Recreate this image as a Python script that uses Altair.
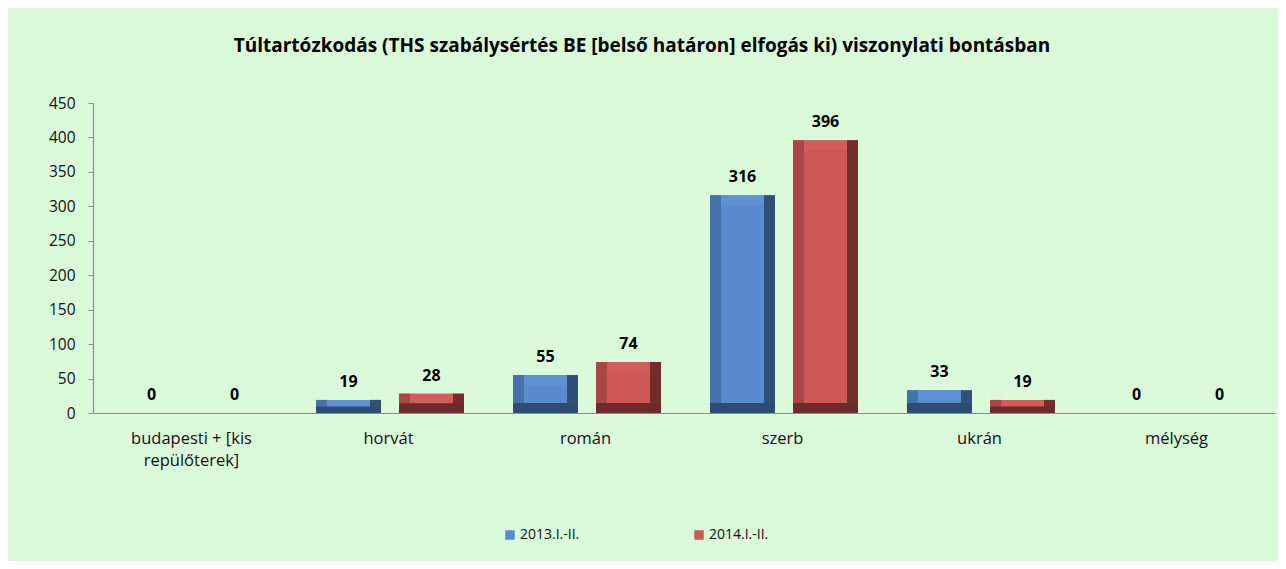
import altair as alt
import pandas as pd

categories = ["budapesti + [kis\nrepülőterek]", "horvát", "román", "szerb", "ukrán", "mélység"]
series_names = ["2013.I.-II.", "2014.I.-II."]
values_2013 = [0, 19, 55, 316, 33, 0]
values_2014 = [0, 28, 74, 396, 19, 0]
title_text = "Túltartózkodás (THS szabálysértés BE [belső határon] elfogás ki) viszonylati bontásban"

rows = []
for c, a, b in zip(categories, values_2013, values_2014):
    rows.append({"category": c, "series": series_names[0], "value": a})
    rows.append({"category": c, "series": series_names[1], "value": b})
df = pd.DataFrame(rows)

FONT = "Open Sans"
BG = "#DAFADA"
BAR_W = 65
BEV_PX = 11
OFF = 41.5
SHIFT = 1.5

palette = {
    series_names[0]: dict(face="#5A8BCF", top="#5F91D4", left="#4672AB", right="#30507A", bottom="#2E4B70", off=-OFF + SHIFT),
    series_names[1]: dict(face="#CE5855", top="#D25E5B", left="#AA4745", right="#732D2D", bottom="#6B2B2B", off=OFF + SHIFT),
}

x_enc = alt.X(
    "category:N",
    sort=categories,
    title=None,
    scale=alt.Scale(paddingInner=0, paddingOuter=0),
    axis=alt.Axis(
        labelAngle=0,
        labelExpr="split(datum.value, '\\n')",
        labelFontSize=16.5,
        labelFont=FONT,
        labelColor="#111111",
        labelPadding=17,
        labelLineHeight=22,
        ticks=False,
        domainColor="#8c8c8c",
        domainWidth=1.2,
        grid=False,
    ),
)
y_scale = alt.Scale(domain=[0, 450])
y_axis = alt.Axis(
    values=list(range(0, 451, 50)),
    labelOverlap=False,
    labelFontSize=15.5,
    labelFont=FONT,
    labelColor="#111111",
    labelPadding=13,
    tickSize=5,
    tickColor="#8c8c8c",
    domainColor="#8c8c8c",
    domainWidth=1.2,
    grid=False,
    title=None,
)


def yq(field):
    return alt.Y(field, type="quantitative", stack=None, scale=y_scale, axis=y_axis, title=None)


base = alt.Chart(df).transform_calculate(
    bev="min(datum.value / 2, 14.5)",
).transform_calculate(
    topstart="datum.value - datum.bev",
)

layers = []
for s in series_names:
    p = palette[s]
    b = base.transform_filter(alt.datum.series == s)
    face = b.mark_bar(width=BAR_W, xOffset=p["off"]).encode(
        x=x_enc,
        y=yq("value"),
        color=alt.Color(
            "series:N",
            scale=alt.Scale(domain=series_names, range=[palette[series_names[0]]["face"], palette[series_names[1]]["face"]]),
            legend=alt.Legend(
                title=None,
                orient="none",
                legendX=410,
                legendY=425,
                direction="horizontal",
                symbolType="square",
                symbolSize=90,
                symbolStrokeWidth=0,
                labelFontSize=14,
                labelFont=FONT,
                labelColor="#111111",
                labelOffset=3,
                columnPadding=112,
            ),
        ),
    )
    top = b.mark_bar(width=BAR_W, xOffset=p["off"], color=p["top"]).encode(
        x=x_enc, y=yq("topstart"), y2="value:Q"
    )
    left = b.mark_bar(width=BEV_PX, xOffset=p["off"] - (BAR_W - BEV_PX) / 2, color=p["left"]).encode(
        x=x_enc, y=yq("value")
    )
    right = b.mark_bar(width=BEV_PX, xOffset=p["off"] + (BAR_W - BEV_PX) / 2, color=p["right"]).encode(
        x=x_enc, y=yq("value")
    )
    bottom = b.mark_bar(width=BAR_W, xOffset=p["off"], color=p["bottom"]).encode(
        x=x_enc, y=yq("bev")
    )
    label = b.mark_text(
        xOffset=p["off"], dy=-18, baseline="middle", align="center",
        font=FONT, fontSize=16, fontWeight="bold", color="#000000",
    ).encode(x=x_enc, y=yq("value"), text="value:Q")
    layers += [face, top, left, right, bottom, label]

chart = alt.layer(*layers).properties(
    width=1182,
    height=310,
    autosize=alt.AutoSizeParams(type="none"),
    padding={"left": 85, "right": 3, "top": 95, "bottom": 148},
    background=BG,
    title=alt.TitleParams(
        title_text,
        font=FONT,
        fontSize=19,
        fontWeight="bold",
        color="#000000",
        anchor="middle",
        dx=-42,
        offset=40,
    ),
).configure_view(strokeOpacity=0)

chart.save("out.html", embed_options={"renderer": "svg", "actions": False})
